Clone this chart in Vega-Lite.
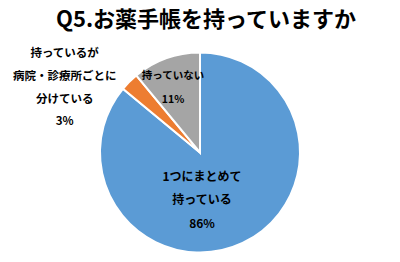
{
  "$schema": "https://vega.github.io/schema/vega-lite/v6.json",
  "autosize": {"type": "fit", "contains": "padding"},
  "width": 400,
  "height": 262,
  "padding": {"top": 9, "left": 0, "right": 0, "bottom": 0},
  "background": "white",
  "title": {
    "text": "Q5.お薬手帳を持っていますか",
    "fontSize": 22,
    "font": "Noto Sans CJK JP",
    "fontWeight": "bold",
    "color": "#000000",
    "anchor": "middle",
    "baseline": "top",
    "offset": 11,
    "dx": 6
  },
  "config": {"view": {"stroke": null}},
  "data": {
    "values": [
      {"category": "1つにまとめて持っている", "value": 86, "o": 1, "label": "1つにまとめて\n持っている\n86%"},
      {"category": "持っているが病院・診療所ごとに分けている", "value": 3, "o": 2, "label": "持っているが\n病院・診療所ごとに\n分けている\n3%"},
      {"category": "持っていない", "value": 11, "o": 3, "label": "持っていない\n11%"}
    ]
  },
  "layer": [
    {
      "mark": {"type": "arc", "outerRadius": 100, "stroke": "white", "strokeWidth": 2},
      "encoding": {
        "theta": {"field": "value", "type": "quantitative", "stack": true, "scale": {"domain": [0, 100]}},
        "order": {"field": "o", "type": "quantitative"},
        "color": {
          "field": "category",
          "type": "nominal",
          "scale": {
            "domain": ["1つにまとめて持っている", "持っているが病院・診療所ごとに分けている", "持っていない"],
            "range": ["#5B9BD5", "#ED7D31", "#A5A5A5"]
          },
          "legend": null
        }
      }
    },
    {
      "transform": [
        {"window": [{"op": "sum", "field": "value", "as": "cum"}], "sort": [{"field": "o"}], "frame": [null, 0]},
        {"filter": "datum.o === 1"}
      ],
      "mark": {"type": "text", "radius": 0, "dx": 2, "dy": 19, "font": "Noto Sans CJK JP", "fontWeight": "bold", "fontSize": 12, "lineBreak": "\n", "lineHeight": 23.5, "align": "center", "baseline": "top", "color": "#000000"},
      "encoding": {
        "theta": {"field": "cum", "type": "quantitative", "stack": null, "scale": {"domain": [0, 100]}},
        "text": {"field": "label"}
      }
    },
    {
      "transform": [
        {"window": [{"op": "sum", "field": "value", "as": "cum"}], "sort": [{"field": "o"}], "frame": [null, 0]},
        {"filter": "datum.o === 2"}
      ],
      "mark": {"type": "text", "radius": 100, "dx": -71.6, "dy": -27.3, "font": "Noto Sans CJK JP", "fontWeight": "bold", "fontSize": 11.5, "lineBreak": "\n", "lineHeight": 22.7, "align": "center", "baseline": "top", "color": "#000000"},
      "encoding": {
        "theta": {"field": "cum", "type": "quantitative", "stack": null, "scale": {"domain": [0, 100]}},
        "text": {"field": "label"}
      }
    },
    {
      "transform": [
        {"window": [{"op": "sum", "field": "value", "as": "cum"}], "sort": [{"field": "o"}], "frame": [null, 0]},
        {"filter": "datum.o === 3"}
      ],
      "mark": {"type": "text", "radius": 82, "dx": -27, "dy": 0, "font": "Noto Sans CJK JP", "fontWeight": "bold", "fontSize": 10.5, "lineBreak": "\n", "lineHeight": 24, "align": "center", "baseline": "top", "color": "#000000"},
      "encoding": {
        "theta": {"field": "cum", "type": "quantitative", "stack": null, "scale": {"domain": [0, 100]}},
        "text": {"field": "label"}
      }
    }
  ]
}
